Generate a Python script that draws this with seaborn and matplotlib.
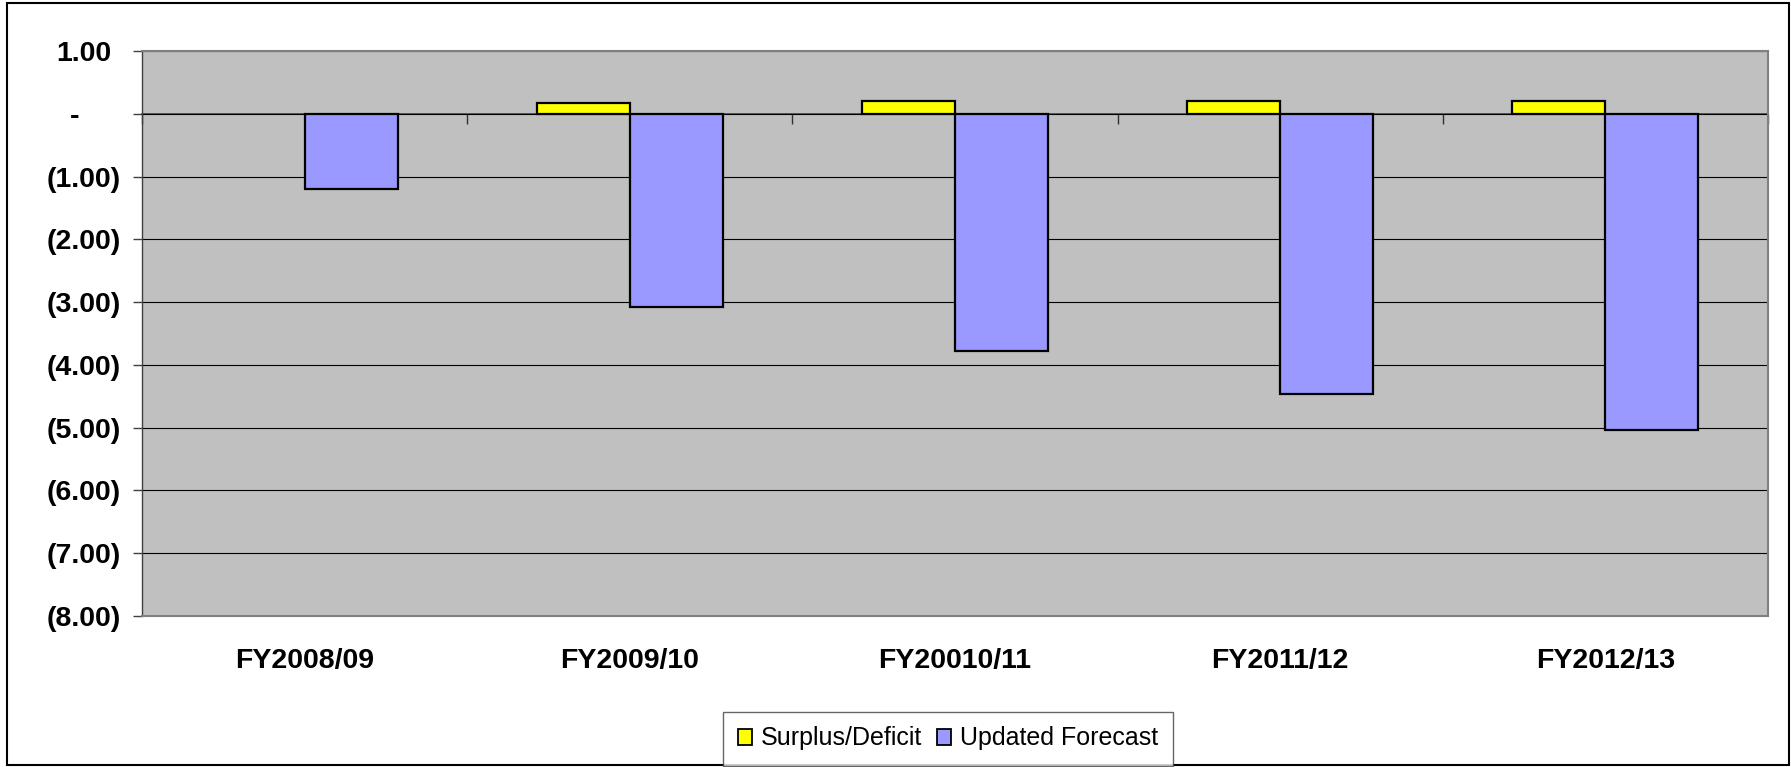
import numpy as np
import pandas as pd
import matplotlib
matplotlib.use("Agg")
import matplotlib.pyplot as plt
import matplotlib.transforms as mtransforms
from matplotlib.patches import Patch, Rectangle
import seaborn as sns

# ---- data ----
categories = ["FY2008/09", "FY2009/10", "FY20010/11", "FY2011/12", "FY2012/13"]
surplus_deficit = [np.nan, 0.17, 0.21, 0.21, 0.20]
updated_forecast = [-1.20, -3.07, -3.78, -4.47, -5.03]
series_names = ["Surplus/Deficit", "Updated Forecast"]
y_ticks = [1, 0, -1, -2, -3, -4, -5, -6, -7, -8]

colors = {"Surplus/Deficit": "#FFFF00", "Updated Forecast": "#9999FF"}

df = pd.DataFrame({
    "period": categories * 2,
    "series": [series_names[0]] * len(categories) + [series_names[1]] * len(categories),
    "value": surplus_deficit + updated_forecast,
}).dropna()

plt.rcParams["font.family"] = ["Liberation Sans", "DejaVu Sans"]

fig = plt.figure(figsize=(17.91, 7.67), dpi=100)
ax = fig.add_axes([142 / 1791, 1 - 616 / 767, (1768 - 142) / 1791, (616 - 51) / 767])

sns.barplot(data=df, x="period", y="value", hue="series", order=categories,
            hue_order=series_names, palette=colors, width=0.572, dodge=True,
            edgecolor="black", linewidth=1.6, saturation=1, errorbar=None, ax=ax)
if ax.get_legend() is not None:
    ax.get_legend().remove()

# plot area
ax.set_facecolor("#C0C0C0")
ax.set_xlim(-0.5, len(categories) - 0.5)
ax.set_ylim(min(y_ticks), max(y_ticks))
ax.set_axisbelow(True)
ax.yaxis.grid(True, color="black", linewidth=0.8)
ax.xaxis.grid(False)
for side in ["top", "right", "bottom", "left"]:
    ax.spines[side].set_color("#808080")
    ax.spines[side].set_linewidth(1.5)
ax.spines["left"].set_color("#404040")
ax.spines["left"].set_linewidth(1.0)

# y axis in accounting style
fs = 20.5
def acct(v):
    if v > 0:
        return f"{v:.2f}"
    if v == 0:
        return "-"
    return f"({abs(v):.2f})"

ax.set_yticks(y_ticks)
ax.set_yticklabels([acct(v) for v in y_ticks], fontsize=fs, fontweight="bold")
ax.tick_params(axis="y", length=6.5, width=1.0, color="#404040", pad=9)
for v, lab in zip(y_ticks, ax.get_yticklabels()):
    if v > 0:
        shift = 0.333 * fs
    elif v == 0:
        shift = 0.333 * fs + 2 * 0.556 * fs
    else:
        shift = 0.0
    if shift:
        lab.set_transform(lab.get_transform() +
                          mtransforms.ScaledTranslation(-shift / 72, 0, fig.dpi_scale_trans))

# category labels at the bottom
ax.set_xlabel("")
ax.set_ylabel("")
ax.set_xticks(range(len(categories)))
ax.set_xticklabels(categories, fontsize=fs, fontweight="bold")
ax.tick_params(axis="x", length=0, pad=23)

# category axis crossing at zero
sec = ax.secondary_xaxis(0, transform=ax.transData)
sec.set_xticks(np.arange(len(categories) + 1) - 0.5)
sec.tick_params(axis="x", direction="out", length=7, width=1.0, color="#303030",
                labelbottom=False, labeltop=False)
for s in sec.spines.values():
    s.set_color("#505050")
    s.set_linewidth(1.3)

# legend
handles = [Patch(facecolor=colors[n], edgecolor="black", linewidth=1.3) for n in series_names]
leg = fig.legend(handles, series_names, loc="center", bbox_to_anchor=(948 / 1791, 1 - 738.5 / 767),
                 ncol=2, fontsize=18, frameon=True, fancybox=False, handlelength=0.55,
                 handleheight=0.6, handletextpad=0.35, columnspacing=0.6,
                 borderpad=0.6, borderaxespad=0)
leg.get_frame().set_edgecolor("#404040")
leg.get_frame().set_linewidth(1.0)

# outer chart border
fig.patches.append(Rectangle((7 / 1791, 2 / 767), (1789 - 7) / 1791, (765 - 3) / 767,
                             transform=fig.transFigure, fill=False,
                             edgecolor="black", linewidth=1.5))

fig.savefig("out.png", dpi=100)
